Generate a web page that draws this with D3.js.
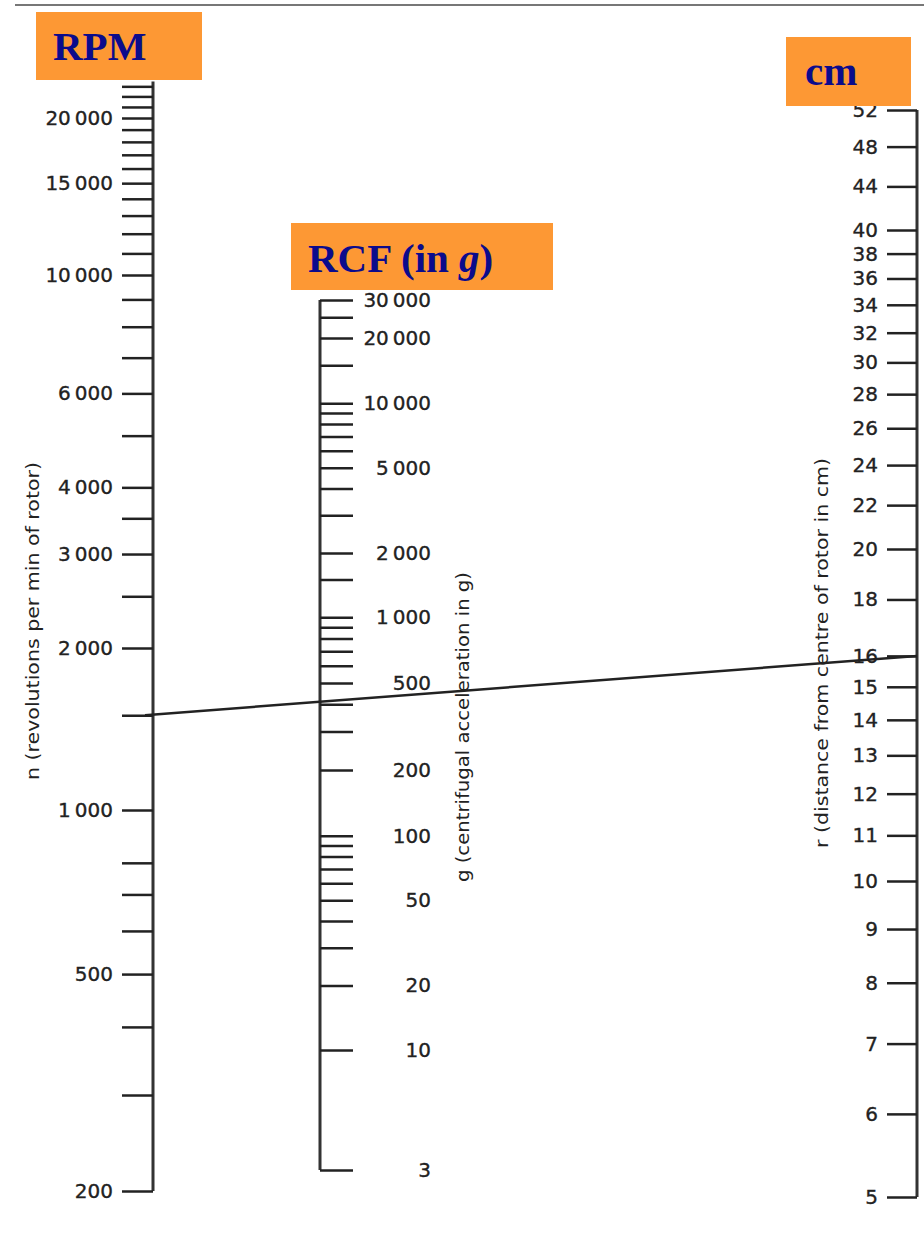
<!DOCTYPE html>
<html>
<head>
<meta charset="utf-8">
<script src="https://cdn.jsdelivr.net/npm/d3@7"></script>
<style>
  body { margin: 0; background: #fff; }
  .tick text { font-family: "DejaVu Sans", sans-serif; fill: #222; stroke: #222; stroke-width: 0.35; }
</style>
</head>
<body>
<svg id="chart" width="924" height="1234"></svg>
<script>
// nomogram values
const rpmTicks = [200, 300, 400, 500, 600, 700, 800, 1000, 1500, 2000, 2500, 3000, 3500, 4000, 5000, 6000, 7000, 8000, 9000,
  10000, 11000, 12000, 13000, 14000, 15000, 16000, 17000, 18000, 19000, 20000, 21000, 22000, 23000]
const rpmLabels = [200, 500, 1000, 2000, 3000, 4000, 6000, 10000, 15000, 20000]
const rpmTop = 23500

const rcfTicks = [3, 10, 20, 30, 40, 50, 60, 70, 80, 90, 100, 200, 300, 400, 500, 600, 700, 800, 900, 1000, 1500,
  2000, 3000, 4000, 5000, 6000, 7000, 8000, 9000, 10000, 15000, 20000, 25000, 30000]
const rcfLabels = [3, 10, 20, 50, 100, 200, 500, 1000, 2000, 5000, 10000, 20000, 30000]

const rTicks = [5, 6, 7, 8, 9, 10, 11, 12, 13, 14, 15, 16, 18, 20, 22, 24, 26, 28, 30, 32, 34, 36, 38, 40, 44, 48, 52]
const rLabels = rTicks

// example reading drawn across the chart
const exampleRpm = 1500
const exampleR = 16

const titles = ['RPM', 'RCF', 'cm']
const axisTitles = ['n (revolutions per min of rotor)', 'g (centrifugal acceleration in g)', 'r (distance from centre of rotor in cm)']

const svg = d3.select('#chart')
const fmtLabel = d => d >= 1000 ? String(d).slice(0, -3) + '\u2009000' : String(d)

// log scales, calibrated piecewise to the printed scale
const rpmY = d3.scaleLog().domain([200, 1000, 2000, 10000, 20000]).range([1191, 810, 648, 275, 118])
const rcfY = d3.scaleLog().domain([3, 10, 100, 1000, 10000, 30000]).range([1170, 1050, 835.7, 617.3, 403.3, 300])
const rY = d3.scaleLog().domain([5, 10, 20, 40, 52]).range([1197, 881, 549, 230, 110])

// top rule
svg.append('line').attr('x1', 15).attr('x2', 924).attr('y1', 5).attr('y2', 5)
  .attr('stroke', '#777').attr('stroke-width', 2)

function drawAxis(axisFn, scale, x, ticks, labels, size, labelX, lo, hi) {
  const g = svg.append('g').attr('transform', `translate(${x},0)`)
  g.append('line').attr('x1', 0).attr('x2', 0).attr('y1', scale(lo)).attr('y2', scale(hi))
    .attr('stroke', '#333').attr('stroke-width', 3)
  const axis = axisFn(scale).tickValues(ticks).tickSizeInner(size).tickSizeOuter(0).tickPadding(9)
    .tickFormat(d => labels.includes(d) ? fmtLabel(d) : '')
  g.call(axis)
  g.select('.domain').remove()
  g.selectAll('.tick line').attr('stroke', '#222').attr('stroke-width', 2.5)
  g.selectAll('.tick text').attr('font-size', 20)
  if (labelX !== null) g.selectAll('.tick text').attr('x', labelX).attr('text-anchor', 'end')
  return g
}

drawAxis(d3.axisLeft, rpmY, 153, rpmTicks, rpmLabels, 31, null, 200, rpmTop)
drawAxis(d3.axisRight, rcfY, 320, rcfTicks, rcfLabels, 33, 111, 3, 30000)
drawAxis(d3.axisLeft, rY, 917, rTicks, rLabels, 30, null, 5, 52)

// example line: 1500 rpm at 16 cm
svg.append('line')
  .attr('x1', 145).attr('y1', rpmY(exampleRpm))
  .attr('x2', 917).attr('y2', rY(exampleR))
  .attr('stroke', '#222').attr('stroke-width', 2.5)

// rotated axis titles
const axisTitlePos = [[39, 621, 318], [469, 727, 310], [828, 653, 390]]
axisTitles.forEach((t, i) => {
  const [x, y, len] = axisTitlePos[i]
  svg.append('text')
    .attr('transform', `translate(${x},${y}) rotate(-90)`)
    .attr('text-anchor', 'middle')
    .attr('font-family', 'DejaVu Sans, sans-serif')
    .attr('font-size', 17.5)
    .attr('fill', '#222')
    .attr('textLength', len)
    .attr('lengthAdjust', 'spacingAndGlyphs')
    .text(t)
})

// orange title boxes
const boxes = [
  {x: 36, y: 12, w: 166, h: 68, tx: 53, ty: 60},
  {x: 291, y: 223, w: 262, h: 67, tx: 308, ty: 272},
  {x: 786, y: 37, w: 125, h: 69, tx: 805, ty: 85}
]
boxes.forEach((b, i) => {
  svg.append('rect').attr('x', b.x).attr('y', b.y).attr('width', b.w).attr('height', b.h).attr('fill', '#fd9834')
  const t = svg.append('text').attr('x', b.tx).attr('y', b.ty)
    .attr('font-family', 'Liberation Serif, serif').attr('font-weight', 'bold')
    .attr('font-size', 41).attr('fill', '#0b0b8c')
  if (titles[i] === 'RCF') {
    t.append('tspan').text('RCF (in ')
    t.append('tspan').attr('font-style', 'italic').text('g')
    t.append('tspan').text(')')
  } else {
    t.text(titles[i])
  }
})
</script>
</body>
</html>
